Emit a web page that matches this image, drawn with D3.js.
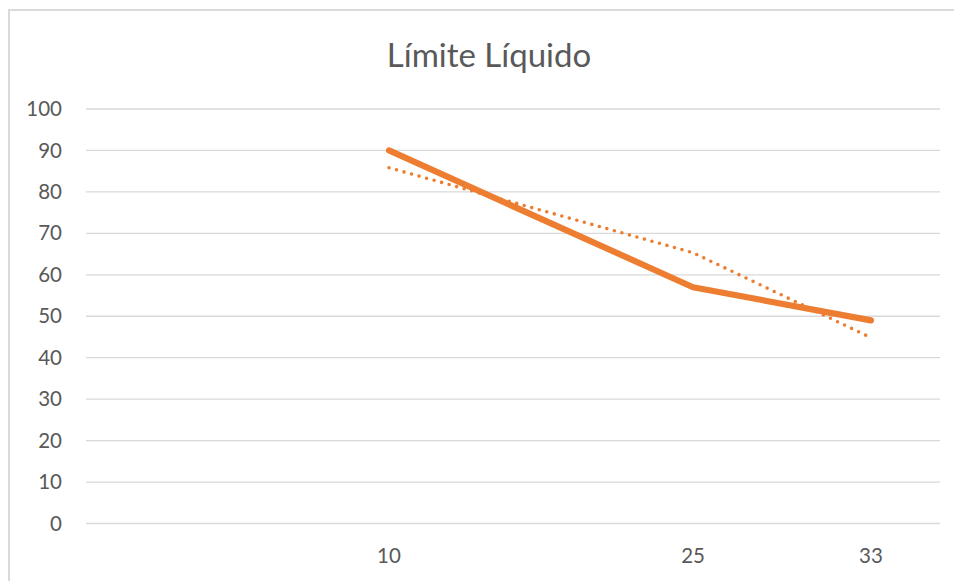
<!DOCTYPE html>
<html>
<head>
<meta charset="utf-8">
<script src="https://cdn.jsdelivr.net/npm/d3@7"></script>
<style>
  html, body { margin: 0; padding: 0; background: #ffffff; }
  svg { display: block; }
</style>
</head>
<body>
<svg id="chart" width="954" height="581"></svg>
<script>
// Liquid-limit test: number of blows vs. water content (%)
const blows = ["10", "25", "33"];
const moisture = [90, 57, 49];
const yTicks = [0, 10, 20, 30, 40, 50, 60, 70, 80, 90, 100];
const chartTitle = "Límite Líquido";

const W = 954, H = 581;
const plot = { left: 86, right: 940, top: 109, bottom: 523.5 };
const orange = "#ED7D31";
const font = "Lato, 'Open Sans', sans-serif";

const svg = d3.select("#chart");

// chart frame
svg.append("rect")
  .attr("x", 9).attr("y", 10)
  .attr("width", W + 20).attr("height", H + 20)
  .attr("fill", "#fff")
  .attr("stroke", "#d9d9d9").attr("stroke-width", 2);

// horizontal category slots along the plot width
const slot = [0.3548, 0.7108, 0.9192];
const x = d3.scaleOrdinal()
  .domain(blows)
  .range(slot.map(f => plot.left + f * (plot.right - plot.left)));

const y = d3.scaleLinear().domain([0, 100]).range([plot.bottom, plot.top]);

// gridlines
svg.append("g")
  .selectAll("line")
  .data(yTicks)
  .join("line")
  .attr("x1", plot.left).attr("x2", plot.right)
  .attr("y1", d => y(d)).attr("y2", d => y(d))
  .attr("stroke", "#d9d9d9").attr("stroke-width", 1.3);

// y axis labels
const yAxis = d3.axisLeft(y).tickValues(yTicks).tickSize(0).tickPadding(0);
svg.append("g")
  .attr("transform", `translate(${plot.left - 24},0)`)
  .call(yAxis)
  .call(g => g.select(".domain").remove())
  .call(g => g.selectAll("text")
    .attr("fill", "#595959")
    .style("font-family", font)
    .style("font-size", "20.5px"));

// x axis labels
svg.append("g")
  .selectAll("text")
  .data(blows)
  .join("text")
  .attr("x", d => x(d))
  .attr("y", plot.bottom + 39)
  .attr("text-anchor", "middle")
  .attr("fill", "#595959")
  .style("font-family", font)
  .style("font-size", "20.5px")
  .text(d => d);

// linear trendline over the category index
const n = moisture.length;
const idx = d3.range(1, n + 1);
const mx = d3.mean(idx), my = d3.mean(moisture);
const slope = d3.sum(idx, (k, i) => (k - mx) * (moisture[i] - my)) /
              d3.sum(idx, k => (k - mx) * (k - mx));
const intercept = my - slope * mx;
const trend = idx.map(k => intercept + slope * k);

const line = d3.line()
  .x((d, i) => x(blows[i]))
  .y(d => y(d));

svg.append("path")
  .datum(trend)
  .attr("d", line)
  .attr("fill", "none")
  .attr("stroke", orange)
  .attr("stroke-width", 3.6)
  .attr("stroke-linecap", "round")
  .attr("stroke-dasharray", "0 7.8");

// data series
svg.append("path")
  .datum(moisture)
  .attr("d", line)
  .attr("fill", "none")
  .attr("stroke", orange)
  .attr("stroke-width", 6.2)
  .attr("stroke-linejoin", "round")
  .attr("stroke-linecap", "round");

// title
svg.append("text")
  .attr("x", 489)
  .attr("y", 67)
  .attr("text-anchor", "middle")
  .attr("fill", "#595959")
  .style("font-family", font)
  .style("font-size", "33px")
  .text(chartTitle);
</script>
</body>
</html>
